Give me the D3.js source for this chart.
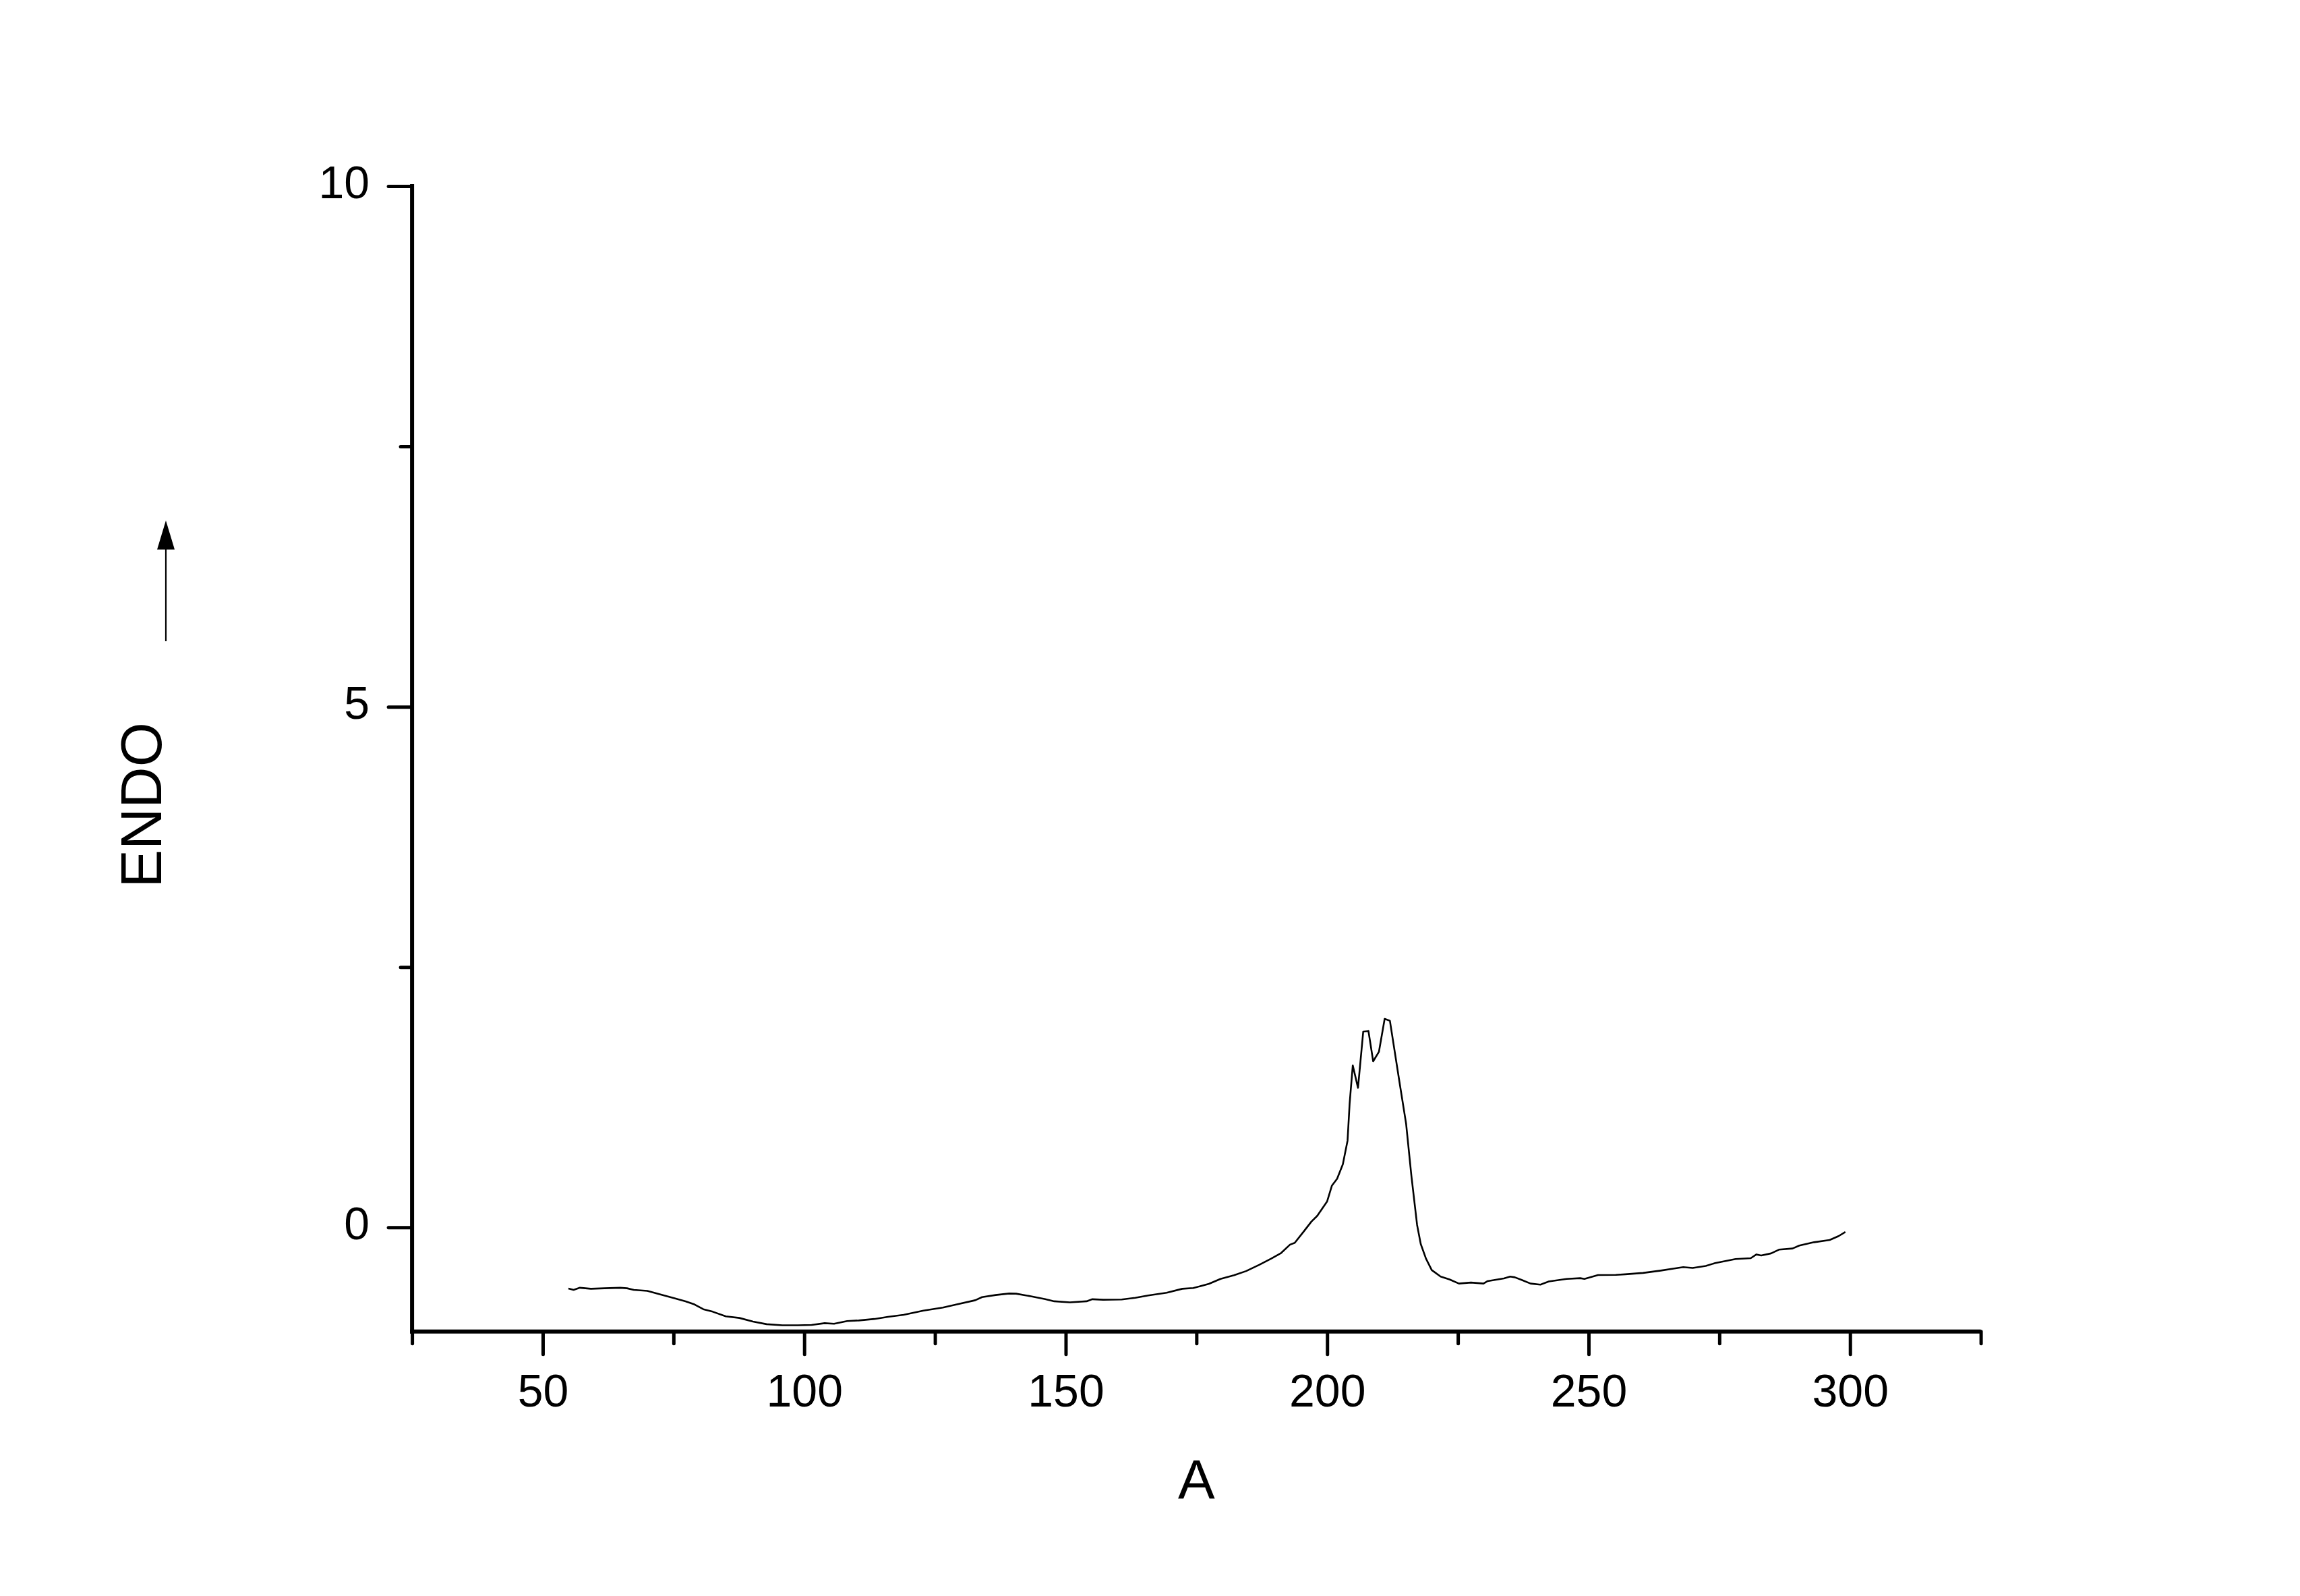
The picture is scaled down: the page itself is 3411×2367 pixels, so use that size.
<!DOCTYPE html>
<html>
<head>
<meta charset="utf-8">
<script src="https://cdn.jsdelivr.net/npm/d3@7"></script>
<style>
html,body{margin:0;padding:0;background:#fff;}
svg{display:block;}
text{font-family:"Liberation Sans",Arial,sans-serif;fill:#000;}
</style>
</head>
<body>
<svg id="chart" width="3411" height="2367"></svg>
<script>
// Data
const xValues = [54.9,55.9,57.1,59.2,61.8,64.8,66.1,67.4,70.0,72.6,75.1,77.3,79.0,80.7,82.5,85.0,87.6,90.2,92.8,95.8,98.8,101.4,103.9,105.7,108.2,110.4,113.4,116.0,119.0,122.8,126.5,128.9,132.7,134.0,136.6,139.2,140.5,143.5,146.1,147.8,150.8,154.0,155.1,157.2,160.7,163.3,165.8,169.3,172.3,174.4,177.4,179.6,182.2,184.5,187.0,189.3,191.2,192.9,193.8,195.5,197.0,198.1,200.0,200.9,201.9,203.0,203.9,204.3,204.9,205.9,206.9,207.9,208.8,209.9,211.0,212.0,213.8,215.1,216.1,217.2,217.9,218.9,220.0,221.7,223.4,225.2,227.5,229.9,230.7,233.8,235.0,235.9,237.2,238.9,240.8,242.4,245.8,248.4,249.2,251.8,255.2,257.0,260.4,263.8,266.4,268.1,269.9,272.4,274.2,278.1,281.0,282.1,283.0,284.9,286.4,289.0,290.3,293.1,296.1,297.8,299.1];
const yValues = [-0.587,-0.60,-0.58,-0.59,-0.585,-0.58,-0.585,-0.60,-0.61,-0.646,-0.68,-0.71,-0.74,-0.786,-0.81,-0.855,-0.87,-0.905,-0.93,-0.94,-0.94,-0.937,-0.92,-0.926,-0.90,-0.894,-0.88,-0.86,-0.84,-0.80,-0.77,-0.743,-0.70,-0.67,-0.65,-0.635,-0.637,-0.663,-0.69,-0.71,-0.72,-0.71,-0.69,-0.695,-0.693,-0.676,-0.654,-0.628,-0.59,-0.583,-0.542,-0.495,-0.46,-0.42,-0.36,-0.30,-0.246,-0.166,-0.149,-0.041,0.056,0.11,0.25,0.40,0.466,0.606,0.833,1.19,1.556,1.34,1.88,1.885,1.595,1.686,2.003,1.984,1.405,0.995,0.499,0.023,-0.16,-0.30,-0.41,-0.473,-0.50,-0.54,-0.53,-0.54,-0.516,-0.49,-0.473,-0.48,-0.505,-0.54,-0.55,-0.52,-0.495,-0.488,-0.495,-0.458,-0.456,-0.451,-0.438,-0.415,-0.395,-0.382,-0.39,-0.37,-0.343,-0.304,-0.296,-0.26,-0.27,-0.25,-0.214,-0.203,-0.175,-0.143,-0.121,-0.084,-0.045];
const xMajorTicks = [50,100,150,200,250,300];
const xMinorTicks = [25,75,125,175,225,275,325];
const yMajorTicks = [0,5,10];
const yMinorTicks = [2.5,7.5];
const xDomain = [25,325];
const yDomain = [-1,10];
const xTitle = "A";
const yTitle = "ENDO";

const svg = d3.select("#chart");
const plotLeft = 611.1, plotRight = 2937.6, plotTop = 276, plotBottom = 1974.7;
const x = d3.scaleLinear().domain(xDomain).range([plotLeft,plotRight]);
const y = d3.scaleLinear().domain(yDomain).range([plotBottom,plotTop]);

// Curve
const pts = xValues.map((v,i)=>[v,yValues[i]]);
svg.append("path")
  .datum(pts)
  .attr("fill","none")
  .attr("stroke","#000")
  .attr("stroke-width",2.6)
  .attr("stroke-linejoin","round")
  .attr("d", d3.line().x(d=>x(d[0])).y(d=>y(d[1])));

// Y axis
const gy = svg.append("g").attr("transform",`translate(${plotLeft},0)`);
gy.call(d3.axisLeft(y).tickValues(yMajorTicks).tickSize(37).tickPadding(26).tickFormat(d3.format("d")));
gy.select(".domain").remove();
gy.selectAll(".tick line").attr("stroke","#000").attr("stroke-width",5).attr("stroke-linecap","round").attr("x2",-35);
gy.selectAll(".tick text").attr("font-size",68).attr("dy","17px").attr("font-family","Liberation Sans, Arial, sans-serif");
const gym = svg.append("g").attr("transform",`translate(${plotLeft},0)`);
gym.call(d3.axisLeft(y).tickValues(yMinorTicks).tickSize(19).tickFormat(""));
gym.select(".domain").remove();
gym.selectAll(".tick line").attr("stroke","#000").attr("stroke-width",5).attr("stroke-linecap","round").attr("x2",-17);

// X axis
const gx = svg.append("g").attr("transform",`translate(0,${plotBottom})`);
gx.call(d3.axisBottom(x).tickValues(xMajorTicks).tickSize(36).tickFormat(d3.format("d")));
gx.select(".domain").remove();
gx.selectAll(".tick line").attr("stroke","#000").attr("stroke-width",5).attr("stroke-linecap","round").attr("y2",34);
gx.selectAll(".tick text").attr("font-size",68).attr("y",111).attr("dy",0).attr("font-family","Liberation Sans, Arial, sans-serif");
const gxm = svg.append("g").attr("transform",`translate(0,${plotBottom})`);
gxm.call(d3.axisBottom(x).tickValues(xMinorTicks).tickSize(19).tickFormat(""));
gxm.select(".domain").remove();
gxm.selectAll(".tick line").attr("stroke","#000").attr("stroke-width",5).attr("stroke-linecap","round").attr("y2",18);

// Axis lines
svg.append("line").attr("x1",plotLeft).attr("x2",plotLeft).attr("y1",plotTop-3).attr("y2",plotBottom+3)
  .attr("stroke","#000").attr("stroke-width",6);
svg.append("line").attr("x1",plotLeft-3).attr("x2",plotRight).attr("y1",plotBottom).attr("y2",plotBottom)
  .attr("stroke","#000").attr("stroke-width",6);

// Titles
svg.append("text").attr("x",(plotLeft+plotRight)/2).attr("y",2222)
  .attr("text-anchor","middle").attr("font-size",82).text(xTitle);
svg.append("text").attr("transform","translate(239,1194) rotate(-90)")
  .attr("text-anchor","middle").attr("font-size",85).text(yTitle);

// Arrow
svg.append("line").attr("x1",246).attr("x2",246).attr("y1",951).attr("y2",800)
  .attr("stroke","#000").attr("stroke-width",2.2);
svg.append("path").attr("d","M246,772 L259,815 L233,815 Z").attr("fill","#000");
</script>
</body>
</html>
